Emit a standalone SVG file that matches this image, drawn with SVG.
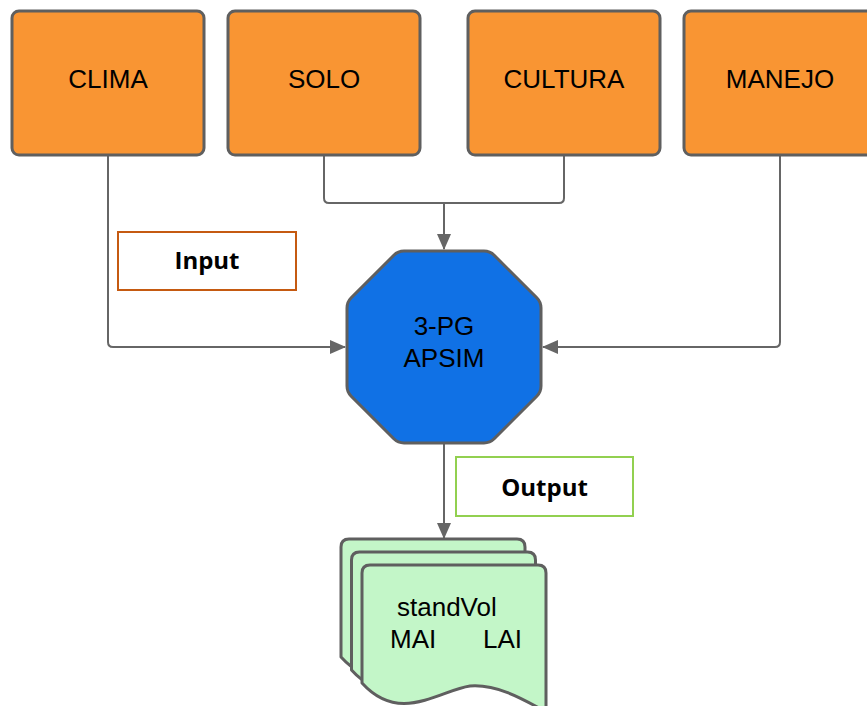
<svg xmlns="http://www.w3.org/2000/svg" width="867" height="706" viewBox="0 0 867 706">
<style>
.box{fill:#f99533;stroke:#5f5f5f;stroke-width:3}
.lbl{font-family:"Liberation Sans",Arial,sans-serif;font-size:26px;fill:#000}
.tag{font-family:"Open Sans","Liberation Sans",sans-serif;font-size:24px;font-weight:bold;fill:#000}
.conn{fill:none;stroke:#666;stroke-width:2;stroke-linejoin:round}
.doc{fill:#c3f6c8;stroke:#5f5f5f;stroke-width:3;stroke-linejoin:round}
</style>
<defs>
<marker id="arr" viewBox="0 0 16 14" refX="15" refY="7" markerWidth="16" markerHeight="14" markerUnits="userSpaceOnUse" orient="auto">
<path d="M0,0 L16,7 L0,14 Z" fill="#666"/>
</marker>
<path id="docshape" d="M362,683 L362,573 Q362,565 370,565 L538,565 Q546,565 546,573 L546,712 C520,697 495,684 470,686 C440,690 400,725 362,683 Z"/>
</defs>
<rect width="867" height="706" fill="#fff"/>
<g id="connectors">
<path class="conn" d="M108,155 L108,342 Q108,347 113,347 L345,347" marker-end="url(#arr)"/>
<path class="conn" d="M324,155 L324,198 Q324,203 329,203 L559,203 Q564,203 564,198 L564,155"/>
<path class="conn" d="M444,203 L444,249" marker-end="url(#arr)"/>
<path class="conn" d="M780,155 L780,342 Q780,347 775,347 L543,347" marker-end="url(#arr)"/>
<path class="conn" d="M444,444 L444,538" marker-end="url(#arr)"/>
</g>
<g id="clima">
<rect class="box" x="12" y="11" width="192" height="144" rx="7"/>
<text class="lbl" x="108" y="88" text-anchor="middle">CLIMA</text>
</g>
<g id="solo">
<rect class="box" x="228" y="11" width="192" height="144" rx="7"/>
<text class="lbl" x="324" y="88" text-anchor="middle">SOLO</text>
</g>
<g id="cultura">
<rect class="box" x="468" y="11" width="192" height="144" rx="7"/>
<text class="lbl" x="564" y="88" text-anchor="middle">CULTURA</text>
</g>
<g id="manejo">
<rect class="box" x="684" y="11" width="192" height="144" rx="7"/>
<text class="lbl" x="780" y="88" text-anchor="middle">MANEJO</text>
</g>
<g id="input">
<rect x="118" y="232" width="178" height="58" fill="#fff" stroke="#c55a11" stroke-width="2"/>
<text class="tag" x="207" y="269" text-anchor="middle">Input</text>
</g>
<g id="model">
<path d="M404,251 L484,251 Q490,251 494.2,255.2 L536.8,297.8 Q541,302 541,308 L541,386 Q541,392 536.8,396.2 L494.2,438.8 Q490,443 484,443 L404,443 Q398,443 393.8,438.8 L351.2,396.2 Q347,392 347,386 L347,308 Q347,302 351.2,297.8 L393.8,255.2 Q398,251 404,251 Z" fill="#1071e5" stroke="#5f5f5f" stroke-width="3" stroke-linejoin="round"/>
<text class="lbl" x="444" y="335" text-anchor="middle">3-PG</text>
<text class="lbl" x="444" y="367" text-anchor="middle">APSIM</text>
</g>
<g id="output">
<rect x="456" y="457" width="177" height="59" fill="#fff" stroke="#92d050" stroke-width="2"/>
<text class="tag" x="544.5" y="496" text-anchor="middle">Output</text>
</g>
<g id="documents">
<use href="#docshape" class="doc" transform="translate(-21,-26)"/>
<use href="#docshape" class="doc" transform="translate(-10.5,-13)"/>
<use href="#docshape" class="doc"/>
<text class="lbl" x="397" y="616">standVol</text>
<text class="lbl" x="390" y="648">MAI</text>
<text class="lbl" x="483" y="648">LAI</text>
</g>
</svg>
